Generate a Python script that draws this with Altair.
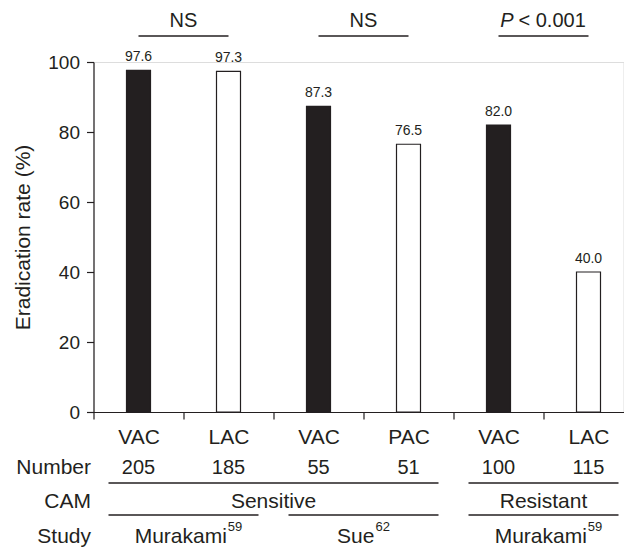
import altair as alt
import pandas as pd

# ---- data ----
ids = ["VAC1", "LAC1", "VAC2", "PAC2", "VAC3", "LAC3"]
regimens = ["VAC", "LAC", "VAC", "PAC", "VAC", "LAC"]
rates = [97.6, 97.3, 87.3, 76.5, 82.0, 40.0]
numbers = [205, 185, 55, 51, 100, 115]
bar_fills = ["#231f20", "#ffffff", "#231f20", "#ffffff", "#231f20", "#ffffff"]

sig_start = ["VAC1", "VAC2", "VAC3"]
sig_end = ["LAC1", "PAC2", "LAC3"]
sig_text = ["NS", "NS", "P < 0.001"]

cam_labels = ["Sensitive", "Resistant"]
cam_start = ["VAC1", "VAC3"]
cam_end = ["PAC2", "LAC3"]
cam_mid = ["LAC1", "VAC3"]

study_names = ["Murakami", "Sue", "Murakami"]
study_refs = ["59", "62", "59"]
study_start = ["VAC1", "VAC2", "VAC3"]
study_end = ["LAC1", "PAC2", "LAC3"]

row_titles = ["Number", "CAM", "Study"]

# ---- styling / layout ----
FONT = "Liberation Sans"
C = "#231f20"
FS = 21                                      # table word font size
WORD_W = {"Murakami": 92.2, "Sue": 37.4}     # approx. widths at 21px
SUP_FS = 13
SUP_W = 14.5
STUDY_SHIFT = {"Murakami": 5, "Sue": 0}
ROW_Y = [406, 440, 475]       # pixel rows of the table below the axis
LINE_Y = [421, 453]

bars_df = pd.DataFrame({"id": ids, "reg": regimens, "rate": rates,
                        "number": numbers, "fill": bar_fills})
sig_df = pd.DataFrame({"start": sig_start, "end": sig_end, "label": sig_text})
cam_df = pd.DataFrame({"start": cam_start, "end": cam_end, "mid": cam_mid, "label": cam_labels})
study_df = pd.DataFrame({"start": study_start, "end": study_end,
                         "name": study_names, "ref": study_refs})

xscale = alt.Scale(domain=ids, range=[0, 540], paddingInner=0, paddingOuter=0)
yscale = alt.Scale(domain=[0, 100], nice=False)

x_axis = alt.Axis(title=None, labelExpr="substring(datum.label, 0, 3)",
                  labelAngle=0, tickBand="extent", tickSize=7,
                  labelFontSize=FS, labelFont=FONT, labelColor=C,
                  labelPadding=7, tickColor=C, tickWidth=1.2,
                  domainColor=C, domainWidth=1.2, grid=False)
y_axis = alt.Axis(values=[0, 20, 40, 60, 80, 100], tickSize=7,
                  labelFontSize=19, labelFont=FONT, labelColor=C,
                  labelPadding=7, tickColor=C, tickWidth=1.2,
                  domainColor=C, domainWidth=1.2, grid=False,
                  title="Eradication rate (%)", titleFontSize=21,
                  titleFont=FONT, titleFontWeight="normal",
                  titleColor=C, titlePadding=14)


def X(field, **kw):
    return alt.X(field, scale=xscale, sort=ids, axis=x_axis, **kw)


def Y(field):
    return alt.Y(field, scale=yscale, axis=y_axis)


base_bars = alt.Chart(bars_df)

bars = base_bars.mark_bar(width=24, stroke=C, strokeWidth=1.2).encode(
    x=X("id:N"),
    y=Y("rate:Q"),
    fill=alt.Fill("fill:N", scale=None),
)

values = base_bars.mark_text(baseline="bottom", dy=-6, fontSize=14, font=FONT, color=C).encode(
    x=X("id:N"),
    y=Y("rate:Q"),
    text=alt.Text("rate:Q", format=".1f"),
)

number_row = base_bars.mark_text(baseline="middle", fontSize=20, font=FONT, color=C).encode(
    x=X("id:N"),
    y=alt.value(ROW_Y[0]),
    text=alt.Text("number:Q"),
)

# significance brackets
sig_rule = alt.Chart(sig_df).mark_rule(color=C, strokeWidth=1.3).encode(
    x=X("start:N"),
    x2=alt.X2("end:N"),
    y=alt.value(-26),
)
ns_text = alt.Chart(sig_df).transform_filter(alt.datum.label == "NS").mark_text(
    baseline="middle", fontSize=20, font=FONT, color=C).encode(
    x=X("start:N", bandPosition=1),
    y=alt.value(-41),
    text="label:N",
)
p_df = sig_df[sig_df["label"].str.startswith("P")]
p_italic = alt.Chart(p_df).transform_calculate(t="substring(datum.label, 0, 1)").mark_text(
    baseline="middle", align="right", dx=-30, fontSize=20, font=FONT,
    fontStyle="italic", color=C).encode(
    x=X("start:N", bandPosition=1),
    y=alt.value(-41),
    text="t:N",
)
p_rest = alt.Chart(p_df).transform_calculate(t="substring(datum.label, 2)").mark_text(
    baseline="middle", align="left", dx=-25, fontSize=20, font=FONT, color=C).encode(
    x=X("start:N", bandPosition=1),
    y=alt.value(-41),
    text="t:N",
)

# table rules and labels
cam_rule = alt.Chart(cam_df).mark_rule(color=C, strokeWidth=1.3, xOffset=-30, x2Offset=30).encode(
    x=X("start:N"),
    x2=alt.X2("end:N"),
    y=alt.value(LINE_Y[0]),
)
cam_text = alt.Chart(cam_df).mark_text(baseline="middle", fontSize=FS, font=FONT, color=C).encode(
    x=X("mid:N", bandPosition=1),
    y=alt.value(ROW_Y[1]),
    text="label:N",
)
study_rule = alt.Chart(study_df).mark_rule(color=C, strokeWidth=1.3, xOffset=-30, x2Offset=30).encode(
    x=X("start:N"),
    x2=alt.X2("end:N"),
    y=alt.value(LINE_Y[1]),
)

study_layers = []
for i in range(len(study_names)):
    row = study_df.iloc[[i]]
    name = study_names[i]
    ww = WORD_W[name]
    left = STUDY_SHIFT[name] - (ww + 1 + SUP_W) / 2
    study_layers.append(
        alt.Chart(row).mark_text(baseline="middle", align="left", dx=left,
                                 fontSize=FS, font=FONT, color=C).encode(
            x=X("start:N", bandPosition=1), y=alt.value(ROW_Y[2]), text="name:N"))
    study_layers.append(
        alt.Chart(row).mark_text(baseline="middle", align="left", dx=left + ww + 1,
                                 fontSize=SUP_FS, font=FONT, color=C).encode(
            x=X("start:N", bandPosition=1), y=alt.value(ROW_Y[2] - 10), text="ref:N"))

row_layers = []
for title, ypos in zip(row_titles, ROW_Y):
    row_layers.append(
        alt.Chart(pd.DataFrame({"t": [title]})).mark_text(
            baseline="middle", align="right", fontSize=FS, font=FONT, color=C).encode(
            x=alt.value(-2.5), y=alt.value(ypos), text="t:N")
    )

chart = alt.layer(
    bars, values, number_row, sig_rule, ns_text, p_italic, p_rest,
    cam_rule, cam_text, study_rule, *study_layers, *row_layers
).properties(
    width=530, height=350,
    autosize=alt.AutoSizeParams(type="none"),
    padding={"left": 85.5, "top": 54, "right": 0, "bottom": 140},
).configure_view(strokeWidth=0).configure(background="white")

chart.save("out.html", embed_options={"renderer": "svg", "actions": False})
